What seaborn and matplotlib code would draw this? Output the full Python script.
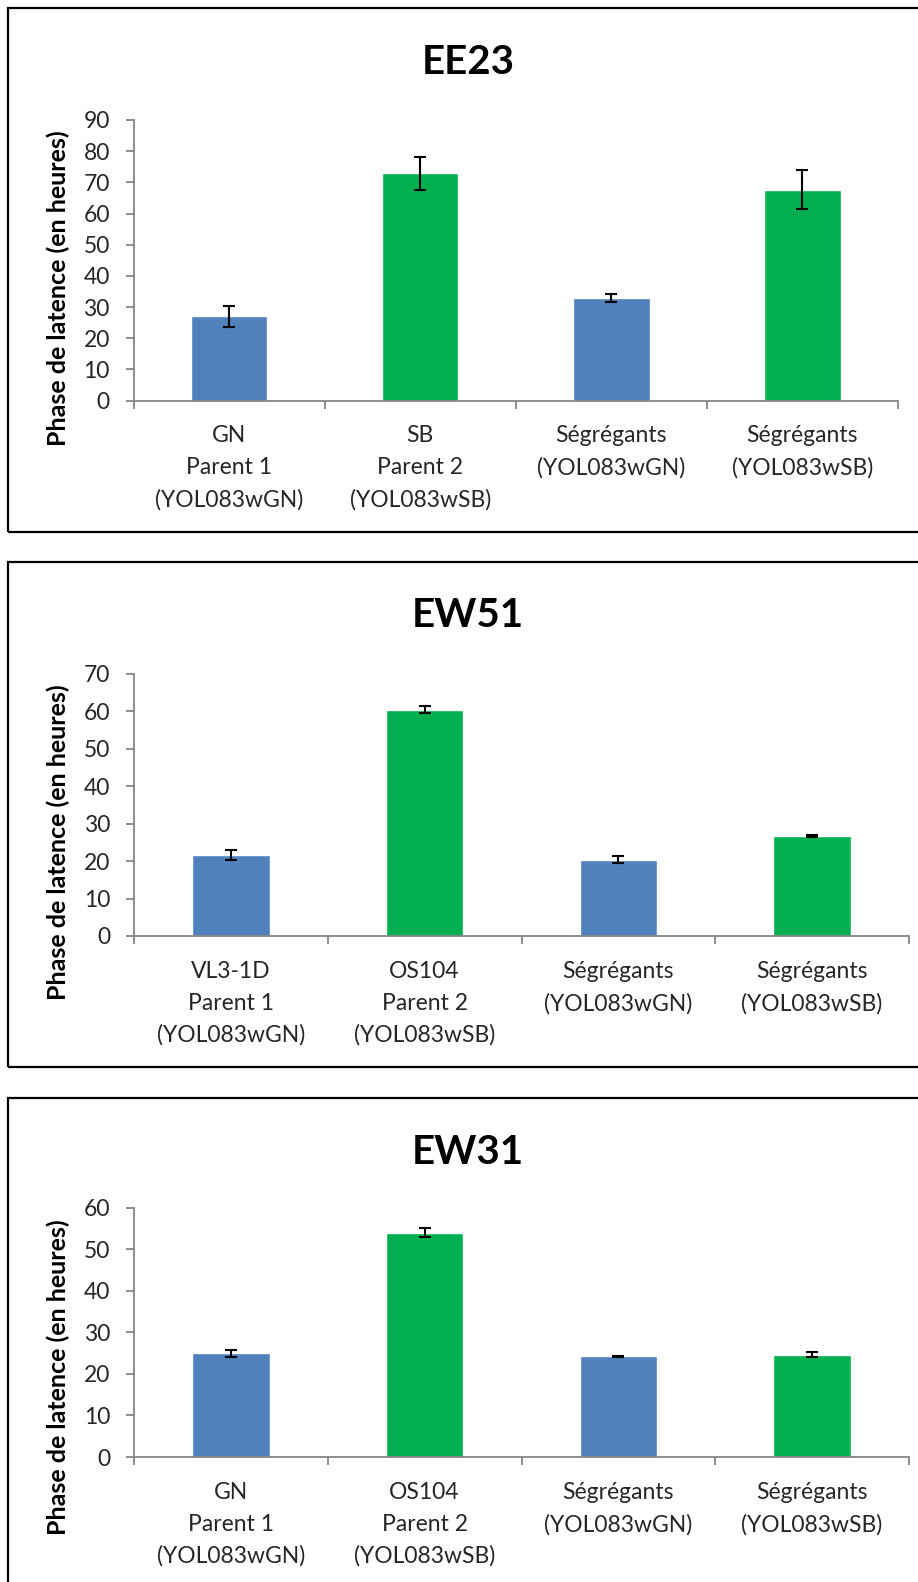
import matplotlib
matplotlib.use("Agg")
import matplotlib.pyplot as plt
from matplotlib.patches import Rectangle
import seaborn as sns

sns.set_theme(style="white")
plt.rcParams["font.family"] = ["Lato", "DejaVu Sans"]

# ---- data -------------------------------------------------------------
ee23_labels = ["GN\nParent 1\n(YOL083wGN)", "SB\nParent 2\n(YOL083wSB)",
               "Ségrégants\n(YOL083wGN)", "Ségrégants\n(YOL083wSB)"]
ee23_values = [27.0, 72.9, 32.9, 67.7]
ee23_errors = [3.35, 5.3, 1.4, 6.1]

ew51_labels = ["VL3-1D\nParent 1\n(YOL083wGN)", "OS104\nParent 2\n(YOL083wSB)",
               "Ségrégants\n(YOL083wGN)", "Ségrégants\n(YOL083wSB)"]
ew51_values = [21.7, 60.4, 20.4, 26.7]
ew51_errors = [1.4, 0.95, 0.9, 0.3]

ew31_labels = ["GN\nParent 1\n(YOL083wGN)", "OS104\nParent 2\n(YOL083wSB)",
               "Ségrégants\n(YOL083wGN)", "Ségrégants\n(YOL083wSB)"]
ew31_values = [24.9, 53.9, 24.2, 24.6]
ew31_errors = [0.75, 1.1, 0.2, 0.6]

bar_colors = ["#4F81BD", "#00B050", "#4F81BD", "#00B050"]
ylabel = "Phase de latence (en heures)"

# ---- layout (pixels, origin top-left) --------------------------------
W, H = 918, 1582
fig = plt.figure(figsize=(W / 100, H / 100), dpi=100)


def fig_rect(x0, y0, x1, y1):
    return [x0 / W, 1 - y1 / H, (x1 - x0) / W, (y1 - y0) / H]


panels = [
    dict(title="EE23", labels=ee23_labels, values=ee23_values, errors=ee23_errors,
         ymax=90, step=10, box=(8, 8, 925, 532), title_y=62.5, ylabel_y=288,
         axes=(133.5, 120, 898, 400.5)),
    dict(title="EW51", labels=ew51_labels, values=ew51_values, errors=ew51_errors,
         ymax=70, step=10, box=(8, 562, 925, 1067), title_y=616, ylabel_y=842,
         axes=(134, 674, 909, 936)),
    dict(title="EW31", labels=ew31_labels, values=ew31_values, errors=ew31_errors,
         ymax=60, step=10, box=(8, 1098, 925, 1590), title_y=1152, ylabel_y=1377,
         axes=(134, 1207.5, 909, 1457)),
]

axis_gray = "#868686"

for p in panels:
    bx0, by0, bx1, by1 = p["box"]
    fig.patches.append(Rectangle((bx0 / W, 1 - by1 / H), (bx1 - bx0) / W, (by1 - by0) / H,
                                 transform=fig.transFigure, fill=False,
                                 edgecolor="black", linewidth=1.6))
    ax = fig.add_axes(fig_rect(*p["axes"]))
    sns.barplot(x=p["labels"], y=p["values"], hue=p["labels"], palette=bar_colors,
                legend=False, width=0.4, ax=ax, saturation=1)
    ax.errorbar(range(len(p["values"])), p["values"], yerr=p["errors"], fmt="none",
                ecolor="black", elinewidth=1.5, capsize=4.5, capthick=1.5)
    ax.set_xlim(-0.5, len(p["values"]) - 0.5)
    ax.set_ylim(0, p["ymax"])
    ax.set_yticks(range(0, p["ymax"] + 1, p["step"]))
    ax.set_xticks([i - 0.5 for i in range(len(p["values"]) + 1)], minor=True)
    for s in ["top", "right"]:
        ax.spines[s].set_visible(False)
    for s in ["left", "bottom"]:
        ax.spines[s].set_color(axis_gray)
        ax.spines[s].set_linewidth(1.3)
    ax.tick_params(axis="y", which="major", direction="out", length=6, width=1.3,
                   color=axis_gray, labelsize=16.5, pad=11, left=True)
    ax.tick_params(axis="x", which="major", length=0, labelsize=16.5, pad=18)
    ax.tick_params(axis="x", which="minor", direction="out", length=6, width=1.3,
                   color=axis_gray, bottom=True)
    for lbl in ax.get_xticklabels():
        lbl.set_linespacing(1.62)
        lbl.set_verticalalignment("top")
    ax.set_xlabel("")
    ax.set_ylabel("")
    ax.grid(False)

    fig.text(58.5 / W, 1 - p["ylabel_y"] / H, ylabel, rotation=90,
             ha="center", va="center", fontsize=18, fontweight="bold", color="black")
    fig.text(468 / W, 1 - p["title_y"] / H, p["title"], ha="center", va="center",
             fontsize=29, fontweight="bold", color="black")

fig.savefig("out.png", dpi=100, facecolor="white")
